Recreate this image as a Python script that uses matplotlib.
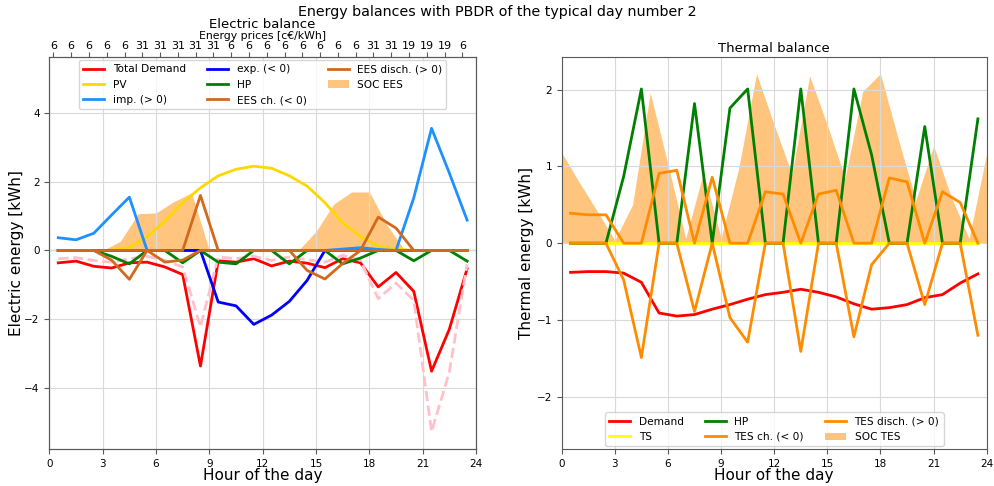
import numpy as np
import matplotlib
matplotlib.use("Agg")
import matplotlib.pyplot as plt

# hours: flows at half hours, storage state at full hours
hours = np.arange(24) + 0.5
hours_soc = np.arange(25)
prices = [6, 6, 6, 6, 6, 31, 31, 31, 31, 31, 6, 6, 6, 6, 6, 6, 6, 6, 31, 31, 19, 19, 19, 6]

# electric balance [kWh]
el_demand = [-0.36, -0.31, -0.46, -0.51, -0.36, -0.34, -0.48, -0.70, -3.36, -0.30, -0.34, -0.24,
             -0.45, -0.31, -0.37, -0.50, -0.24, -0.36, -1.06, -0.64, -1.19, -3.51, -2.29, -0.53]
el_demand_ref = [-0.24, -0.21, -0.29, -0.34, -0.24, -0.17, -0.29, -0.48, -2.22, -0.19, -0.24, -0.17,
                 -0.29, -0.19, -0.27, -0.34, -0.14, -0.29, -1.40, -0.95, -1.45, -5.27, -3.53, -0.40]
pv = [0, 0, 0, 0, 0.09, 0.40, 0.85, 1.39, 1.82, 2.17, 2.36, 2.45,
      2.39, 2.17, 1.87, 1.39, 0.80, 0.41, 0.13, 0.04, 0, 0, 0, 0]
imp = [0.37, 0.31, 0.50, 1.03, 1.55, 0, 0, 0, 0, 0, 0, 0,
       0, 0, 0, 0, 0.04, 0.08, 0.03, 0, 1.53, 3.55, 2.25, 0.88]
exp = [0, 0, 0, 0, 0, 0, 0, 0, 0, -1.50, -1.61, -2.15,
       -1.88, -1.48, -0.87, 0, 0, 0, 0, 0, 0, 0, 0, 0]
hp_el = [0, 0, 0, -0.17, -0.39, 0, 0, -0.36, 0, -0.34, -0.39, 0,
         0, -0.39, 0, 0, -0.39, -0.22, 0, 0, -0.30, 0, 0, -0.31]
ees_ch = [0, 0, 0, -0.28, -0.84, 0, -0.34, -0.28, 0, 0, 0, 0,
          0, 0, -0.58, -0.83, -0.38, 0, 0, 0, 0, 0, 0, 0]
ees_dis = [0, 0, 0, 0, 0, 0, 0, 0, 1.60, 0, 0, 0,
           0, 0, 0, 0, 0, 0, 0.97, 0.65, 0, 0, 0, 0]
soc_ees = [0, 0, 0, 0, 0.27, 1.07, 1.09, 1.42, 1.67, 0, 0, 0, 0,
           0, 0, 0.55, 1.35, 1.70, 1.70, 0.73, 0, 0, 0, 0, 0]

# thermal balance [kWh]
th_demand = [-0.38, -0.37, -0.37, -0.39, -0.51, -0.91, -0.95, -0.93, -0.86, -0.80, -0.73, -0.67,
             -0.64, -0.60, -0.64, -0.70, -0.79, -0.86, -0.84, -0.80, -0.71, -0.67, -0.52, -0.40]
ts = [0] * 24
hp_th = [0, 0, 0, 0.87, 2.01, 0, 0, 1.82, 0, 1.76, 2.01, 0,
         0, 2.01, 0, 0, 2.01, 1.15, 0, 0, 1.52, 0, 0, 1.62]
tes_ch = [0, 0, 0, -0.48, -1.49, 0, 0, -0.89, 0, -0.97, -1.29, 0,
          0, -1.41, 0, 0, -1.22, -0.28, 0, 0, -0.80, 0, 0, -1.20]
tes_dis = [0.39, 0.37, 0.37, 0, 0, 0.91, 0.95, 0, 0.86, 0, 0, 0.67,
           0.64, 0, 0.64, 0.69, 0, 0, 0.85, 0.80, 0, 0.67, 0.53, 0]
soc_tes = [1.18, 0.79, 0.42, 0.04, 0.50, 1.96, 1.03, 0.06, 0.92, 0.07, 0.98, 2.21, 1.54,
           0.90, 2.18, 1.54, 0.85, 1.98, 2.21, 1.36, 0.56, 1.27, 0.60, 0.06, 1.17]

plt.rcParams['font.family'] = ['DejaVu Sans']
plt.rcParams['xtick.labelsize'] = 7.5
plt.rcParams['ytick.labelsize'] = 7.5
plt.rcParams['axes.edgecolor'] = '0.35'
plt.rcParams['xtick.color'] = '0.35'
plt.rcParams['ytick.color'] = '0.35'
plt.rcParams['xtick.labelcolor'] = 'black'
plt.rcParams['ytick.labelcolor'] = 'black'

fig = plt.figure(figsize=(9.95, 4.86), dpi=100)
fig.suptitle("Energy balances with PBDR of the typical day number 2", fontsize=10.3, y=0.99)

lw = 2
# ---- electric balance
ax1 = fig.add_axes([0.0496, 0.0755, 0.4288, 0.807])
ax1.axhline(0, color='chocolate', lw=1, alpha=0.4, zorder=1)
ax1.plot(hours, el_demand, color='red', lw=lw, label='Total Demand')
ax1.plot(hours, el_demand_ref, color='pink', lw=lw, ls='--')
ax1.plot(hours, pv, color='gold', lw=lw, label='PV')
ax1.plot(hours, imp, color='dodgerblue', lw=lw, label='imp. (> 0)')
ax1.plot(hours, exp, color='blue', lw=lw, label='exp. (< 0)')
ax1.plot(hours, hp_el, color='green', lw=lw, label='HP')
ax1.plot(hours, ees_ch, color='chocolate', lw=lw, label='EES ch. (< 0)')
ax1.plot(hours, ees_dis, color='chocolate', lw=lw, label='EES disch. (> 0)')
ax1.fill_between(hours_soc, 0, soc_ees, color='darkorange', alpha=0.5, lw=0, label='SOC EES')
ax1.set_xlim(0, 24)
ax1.set_ylim(-5.78, 5.62)
ax1.set_xticks(range(0, 25, 3))
ax1.set_yticks([-4, -2, 0, 2, 4])
ax1.grid(True, color='0.85', lw=0.8)
ax1.set_xlabel("Hour of the day", fontsize=11, labelpad=-1)
ax1.set_ylabel("Electric energy [kWh]", fontsize=11, labelpad=0)
ax1.legend(loc='upper center', ncol=3, fontsize=7.6, framealpha=0.8, borderaxespad=0.3)

ax1t = ax1.twiny()
ax1t.set_xlim(0, 24)
ax1t.set_xticks(np.arange(24) + 0.23)
ax1t.set_xticklabels([str(p) for p in prices])
ax1t.tick_params(axis='x', pad=1, labelsize=8)
ax1t.set_xlabel("Energy prices [c€/kWh]", fontsize=7.8, labelpad=1)
ax1.set_title("Electric balance", fontsize=9.5, pad=2)

# ---- thermal balance
ax2 = fig.add_axes([0.5645, 0.0755, 0.4272, 0.807])
ax2.plot(hours, th_demand, color='red', lw=lw, label='Demand')
ax2.plot(hours, ts, color='yellow', lw=lw, label='TS')
ax2.plot(hours, hp_th, color='green', lw=lw, label='HP')
ax2.plot(hours, tes_ch, color='darkorange', lw=lw, label='TES ch. (< 0)')
ax2.plot(hours, tes_dis, color='darkorange', lw=lw, label='TES disch. (> 0)')
ax2.fill_between(hours_soc, 0, soc_tes, color='darkorange', alpha=0.5, lw=0, label='SOC TES')
ax2.set_xlim(0, 24)
ax2.set_ylim(-2.686, 2.425)
ax2.set_xticks(range(0, 25, 3))
ax2.set_yticks([-2, -1, 0, 1, 2])
ax2.grid(True, color='0.85', lw=0.8)
ax2.set_xlabel("Hour of the day", fontsize=11, labelpad=-1)
ax2.set_ylabel("Thermal energy [kWh]", fontsize=11, labelpad=2)
ax2.set_title("Thermal balance", fontsize=9.5, pad=4)
ax2.legend(loc='lower center', ncol=3, fontsize=7.6, framealpha=0.8, borderaxespad=0.3)

fig.savefig("out.png", dpi=100)
